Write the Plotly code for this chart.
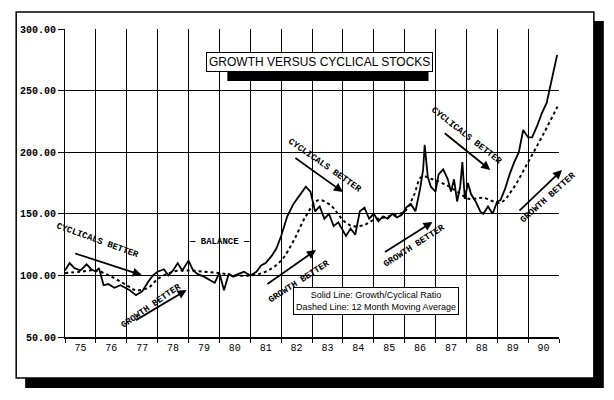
import plotly.graph_objects as go

# Solid line: Growth/Cyclical ratio
ratio_x = [1975.0,1975.15,1975.3,1975.5,1975.7,1975.85,1976.0,1976.1,1976.25,1976.4,1976.6,1976.8,1976.95,1977.1,1977.3,1977.5,1977.7,1977.85,1978.0,1978.2,1978.35,1978.5,1978.65,1978.8,1979.0,1979.15,1979.3,1979.5,1979.7,1979.85,1980.0,1980.15,1980.3,1980.45,1980.6,1980.8,1981.0,1981.2,1981.35,1981.5,1981.7,1981.85,1982.0,1982.2,1982.4,1982.6,1982.8,1982.95,1983.1,1983.25,1983.4,1983.55,1983.7,1983.85,1984.0,1984.1,1984.25,1984.4,1984.55,1984.7,1984.85,1985.0,1985.15,1985.3,1985.45,1985.6,1985.75,1985.9,1986.05,1986.2,1986.35,1986.5,1986.6,1986.65,1986.75,1986.85,1987.0,1987.1,1987.25,1987.4,1987.5,1987.6,1987.7,1987.8,1987.87,1987.95,1988.05,1988.15,1988.3,1988.45,1988.55,1988.7,1988.85,1989.0,1989.1,1989.25,1989.4,1989.55,1989.7,1989.84,1990.0,1990.13,1990.3,1990.45,1990.6,1990.75,1990.94]
ratio_y = [104,110,106,104,109,105,103,106,92,93,90,92,90,88,84,87,95,100,103,105,100,104,110,104,112,104,101,99,96,94,102,88,101,99,101,103,100,103,108,110,116,122,132,148,158,165,172,168,152,156,146,150,140,143,136,132,138,133,152,155,146,150,144,148,146,150,147,149,155,158,152,170,186,206,180,172,168,182,186,178,168,178,160,172,192,162,175,166,160,152,150,156,150,160,161,170,182,192,200,218,212,212,222,232,240,258,279]

# Dashed line: 12 month moving average
ma_x = [1975.0,1975.5,1976.0,1976.5,1977.0,1977.3,1977.7,1978.0,1978.5,1979.0,1979.5,1980.0,1980.5,1981.0,1981.5,1982.0,1982.4,1982.8,1983.2,1983.6,1984.0,1984.3,1984.7,1985.0,1985.5,1986.0,1986.3,1986.55,1986.9,1987.3,1987.7,1988.1,1988.55,1989.1,1989.5,1990.0,1990.5,1990.95]
ma_y = [102,103,104,99,92,88,90,97,103,104,103,102,100,100,103,112,128,148,161,157,145,140,141,145,148,152,165,180,178,174,168,162,163,159,170,192,215,237]

year_labels = [str(y) for y in range(75, 91)]
y_ticks = [50, 100, 150, 200, 250, 300]

OFF = 8  # page body margin
W, H = 614 - OFF, 400 - OFF
L, R, T, B = 63, 559, 29, 337
def px(x): return (x - L) / (R - L)
def py(y): return 1 - (y - T) / (B - T)

fig = go.Figure()
fig.add_trace(go.Scatter(x=ratio_x, y=ratio_y, mode="lines", line=dict(color="black", width=1.8), hoverinfo="skip"))
fig.add_trace(go.Scatter(x=ma_x, y=ma_y, mode="lines", line=dict(color="black", width=2, dash="dot", shape="spline"), hoverinfo="skip"))

shapes = [
    dict(type="rect", xref="paper", yref="paper", x0=px(23), x1=px(604), y0=py(388), y1=py(21), fillcolor="black", line=dict(width=0), layer="below"),
    dict(type="rect", xref="paper", yref="paper", x0=px(14), x1=px(594), y0=py(378), y1=py(12), fillcolor="white", line=dict(color="black", width=1.5), layer="below"),
    dict(type="rect", xref="paper", yref="paper", x0=px(226), x1=px(428), y0=py(81), y1=py(64), fillcolor="black", line=dict(width=0)),
]

mono = dict(family="Liberation Mono", size=9, color="black")
ann = [
    dict(text="GROWTH VERSUS CYCLICAL STOCKS", x=px(319), y=py(62), font=dict(family="Liberation Sans Narrow, Arial", size=12, color="black"),
         bgcolor="white", bordercolor="black", borderwidth=1, borderpad=2),
    dict(text="Solid Line: Growth/Cyclical Ratio<br>Dashed Line: 12 Month Moving Average", x=px(375), y=py(301),
         font=dict(family="Liberation Sans", size=9, color="black"), bgcolor="white", bordercolor="black", borderwidth=1, borderpad=2, align="center"),
    dict(text="<b>— BALANCE —</b>", x=px(218), y=py(242), font=mono),
]
labels = [
    ("<b>CYCLICALS BETTER</b>", 96, 241, 20),
    ("<b>GROWTH BETTER</b>", 150, 306, -35),
    ("<b>GROWTH BETTER</b>", 298, 282, -33),
    ("<b>CYCLICALS BETTER</b>", 324, 166, 35),
    ("<b>GROWTH BETTER</b>", 414, 246, -33),
    ("<b>CYCLICALS BETTER</b>", 466, 136, 38),
    ("<b>GROWTH BETTER</b>", 548, 198, -42),
]
for t, x, y, a in labels:
    ann.append(dict(text=t, x=px(x), y=py(y), textangle=a, font=mono))
arrows = [
    (72, 253, 140, 275),
    (133, 321, 185, 290),
    (265, 285, 315, 250),
    (293, 157, 342, 192),
    (383, 253, 432, 222),
    (443, 132, 490, 170),
    (518, 212, 562, 170),
]
for x0, y0, x1, y1 in arrows:
    ann.append(dict(x=px(x1), y=py(y1), ax=x0 - x1, ay=y0 - y1, axref="pixel", ayref="pixel", text="",
                    showarrow=True, arrowhead=2, arrowsize=1, arrowwidth=1.8, arrowcolor="black"))
for a_ in ann:
    a_.setdefault("xref", "paper"); a_.setdefault("yref", "paper"); a_.setdefault("showarrow", False)
    a_.setdefault("xanchor", "center"); a_.setdefault("yanchor", "middle")

fig.update_layout(
    width=W, height=H, margin=dict(l=L - OFF, r=W - (R - OFF), t=T - OFF, b=H - (B - OFF)),
    paper_bgcolor="white", plot_bgcolor="rgba(0,0,0,0)", showlegend=False,
    shapes=shapes, annotations=ann,
    xaxis=dict(range=[1975, 1991], tickvals=[1975.5 + i for i in range(16)], ticktext=year_labels, ticks="",
               showgrid=False, zeroline=False, showline=True, linecolor="black", linewidth=1.5,
               tickfont=dict(family="Liberation Mono", size=10, color="black"),
               minor=dict(tickvals=list(range(1975, 1992)), showgrid=True, gridcolor="black", gridwidth=1, ticks="outside", ticklen=4, tickcolor="black")),
    yaxis=dict(range=[50, 300], tickvals=y_ticks, ticktext=[f"<b>{v:.2f}</b>" for v in y_ticks], ticks="outside", ticklen=6, tickcolor="black",
               showgrid=True, gridcolor="black", gridwidth=1, zeroline=False, showline=True, linecolor="black",
               tickfont=dict(family="Liberation Mono", size=10, color="black")),
)
fig.write_html("out.html")
